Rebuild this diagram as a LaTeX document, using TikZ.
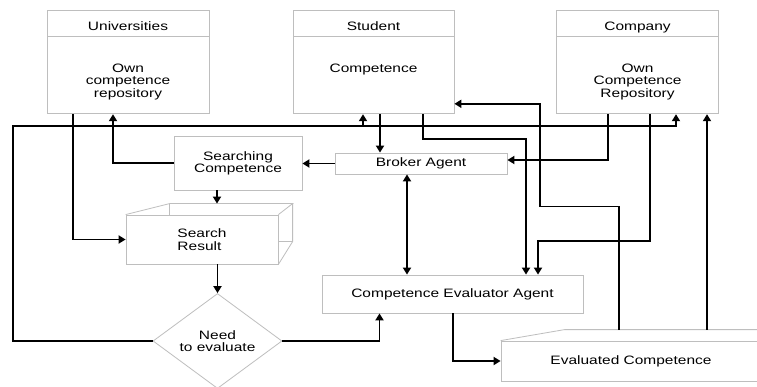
\documentclass[tikz,border=0pt]{standalone}
\usepackage{fontspec}
\setmainfont[FakeStretch=1.27]{Liberation Sans}
\usetikzlibrary{
  shapes.geometric,
  arrows.meta,
  positioning,
  calc,
}
\definecolor{boxgray}{RGB}{190,190,190}
\tikzset{
  party/.style={
    rectangle,
    draw=boxgray,
    line width=0.8pt,
    minimum width=162pt,
  },
  head/.style={
    party,
    minimum height=26pt,
    text height=15pt,
    text depth=0pt,
  },
  agent/.style={
    rectangle,
    draw=boxgray,
    line width=0.8pt,
    text centered,
    align=center,
  },
  txt/.style={
    inner sep=0pt,
    align=center,
  },
  boxline/.style={
    draw=boxgray,
    line width=0.8pt,
  },
  decision/.style={
    diamond,
    draw=boxgray,
    line width=0.8pt,
    aspect=1.36,
    minimum width=129pt,
    minimum height=95pt,
    inner sep=0pt,
    align=center,
  },
  flow/.style={
    line width=1.8pt,
    -{Triangle[length=7pt,width=8pt]},
  },
  biflow/.style={
    line width=1.8pt,
    {Triangle[length=7pt,width=8pt]}-{Triangle[length=7pt,width=8pt]},
  },
}

\begin{document}
\begin{tikzpicture}[x=1pt, y=-1pt, font=\fontsize{12.2}{12.3}\selectfont]

  \clip (0,0) rectangle (757,387);
  \fill[white] (0,0) rectangle (757,387);

  % top row: the three parties
  \node[head] (univ head) at (128,23) {Universities};
  \node[party, minimum height=77pt, below=0pt of univ head] (univ) {};
  \node[txt, below=27.5pt of univ head] (univ txt) {Own\\competence\\repository};

  \node[head, minimum width=161pt] (stud head) at (373.5,23) {Student};
  \node[party, minimum width=161pt, minimum height=77pt, below=0pt of stud head] (stud) {};
  \node[txt, below=27.5pt of stud head] (stud txt) {Competence};

  \node[head] (comp head) at (637.5,23) {Company};
  \node[party, minimum height=77pt, below=0pt of comp head] (comp) {};
  \node[txt, below=27.5pt of comp head] (comp txt) {Own\\Competence\\Repository};

  % agents and results
  \node[agent, minimum width=128pt, minimum height=54pt] (sc) at (238,163) {Searching\\Competence};
  \node[agent, minimum width=172pt, minimum height=21pt] (broker) at (421,163.5) {Broker Agent};
  \node[agent, minimum width=152pt, minimum height=49pt, align=left] (sres) at (202,239.5) {Search\\Result};
  \node[decision] (need) at (217.5,341) {Need\\to evaluate};
  \node[agent, minimum width=261pt, minimum height=38pt] (cea) at (452.5,294) {Competence Evaluator Agent};
  \node[agent, minimum width=260pt, minimum height=40pt] (evc) at (631,361) {Evaluated Competence};

  % box depth lines
  \draw[boxline] (sres.north west) -- ++(44,-11) coordinate (sr a) -- ++(123,0) coordinate (sr b) -- (sres.north east);
  \draw[boxline] (sr a) -- ++(0,11);
  \draw[boxline] (sr b) -- ++(0,38) coordinate (sr c) -- (sres.south east);
  \draw[boxline] (sr c) -- (sr c -| sres.east);
  \draw[boxline] (evc.north west) -- ++(64,-11) -- ++(220,0);
  \coordinate (evc back) at ([yshift=11pt]evc.north);
  \coordinate (sres back) at (sr a);
  \coordinate (loop) at (13,126);

  % connectors
  \draw[flow] ([xshift=-55pt]univ.south) |- (sres.west);
  \draw[flow] (sc.west) -| ([xshift=-15pt]univ.south);
  \draw[flow] (broker.west) -- (broker.west -| sc.east);
  \draw[flow] ([xshift=6.5pt]stud.south) -- ([xshift=-41pt]broker.north);
  \draw[flow] ([xshift=-29.5pt]comp.south) |- ([yshift=3.5pt]broker.east);
  \draw[biflow] ([xshift=-14pt]broker.south) -- ([xshift=-14pt]broker.south |- cea.north);
  \draw[flow] ([xshift=49.5pt]stud.south) -- ++(0,25) -| ([xshift=73.5pt]cea.north);
  \draw[flow] ([xshift=12.5pt]comp.south) -- ++(0,127) -| ([xshift=85.5pt]cea.north);
  \draw[flow] ([xshift=-21pt]sc.south) -- ([xshift=-21pt]sc.south |- sres back);
  \draw[flow] (need.north |- sres.south) -- (need.north);
  \draw[flow] (need.east) -| ([xshift=-73pt]cea.south);
  \draw[flow] ([xshift=0.5pt]cea.south) |- (evc.west);
  \draw[flow] (need.west) -| (loop) -| ([xshift=38.5pt]comp.south);
  \draw[flow] ([xshift=-10.5pt]stud.south |- loop) -- ([xshift=-10.5pt]stud.south);
  \draw[flow] ([xshift=-12pt]evc back) -- ++(0,-123) -- ++(-79,0) |- ([yshift=-28.5pt]stud.east);
  \draw[flow] ([xshift=76pt]evc back) -- ([xshift=76pt]evc back |- comp.south);

\end{tikzpicture}
\end{document}
